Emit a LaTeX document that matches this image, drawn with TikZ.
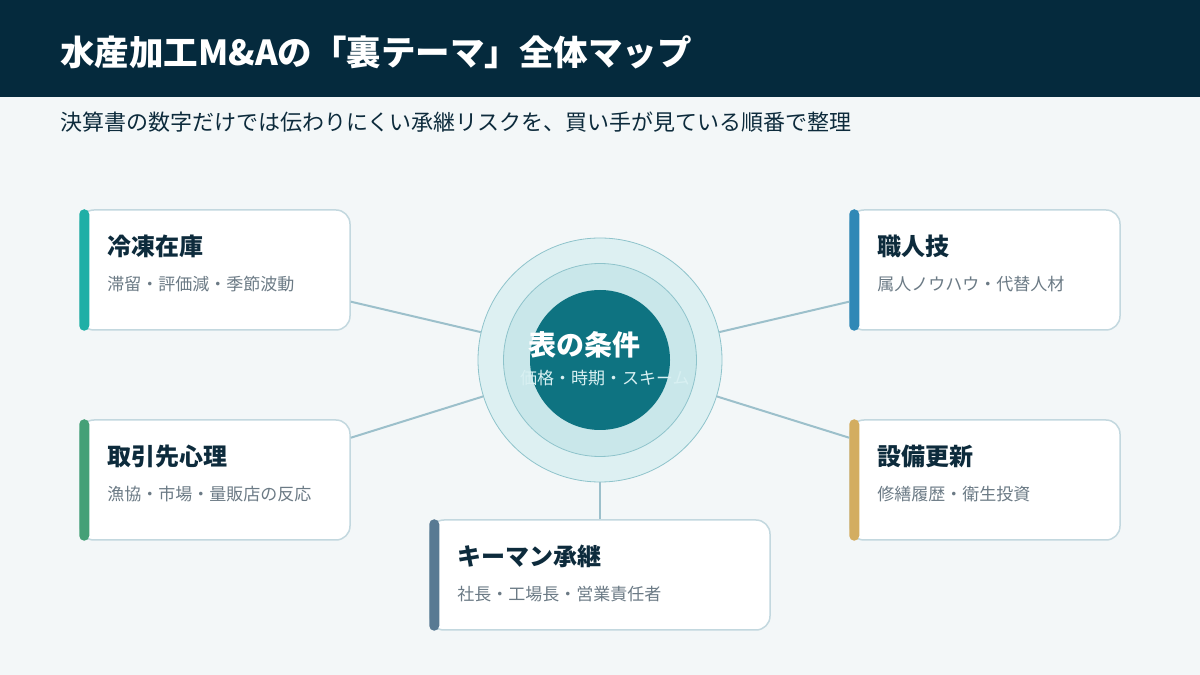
\documentclass[tikz,border=0pt]{standalone}
\usepackage{fontspec}
\setmainfont{Noto Sans CJK JP}
\usepackage{xcolor}
\usepackage{tikz}
\usetikzlibrary{positioning}
\definecolor{pagebg}{HTML}{F3F7F8}
\definecolor{navy}{HTML}{052A3D}
\definecolor{inktext}{HTML}{0D2B3C}
\definecolor{subtext}{HTML}{6B7A85}
\definecolor{cardline}{HTML}{C3D8DF}
\definecolor{linkcol}{HTML}{9CC0CB}
\definecolor{ringline}{HTML}{8EC3CB}
\definecolor{ringout}{HTML}{DDF0F2}
\definecolor{ringmid}{HTML}{C9E7EA}
\definecolor{core}{HTML}{0E7381}
\definecolor{corelabel}{HTML}{D8F0F2}
\definecolor{acteal}{HTML}{1FAFA6}
\definecolor{acgreen}{HTML}{44A077}
\definecolor{acblue}{HTML}{2F88B6}
\definecolor{acgold}{HTML}{D3AD60}
\definecolor{acslate}{HTML}{587A93}

\begin{document}
\begin{tikzpicture}[x=1pt, y=1pt,
  card/.style={draw=cardline, line width=1.5pt, fill=white, rounded corners=14pt,
               minimum width=270pt, minimum height=120pt, inner sep=0pt},
  bar/.style={rounded corners=5pt},
  ttl/.style={font=\fontsize{24}{28}\selectfont\bfseries, color=inktext,
              anchor=west, inner sep=0pt},
  sub/.style={font=\fontsize{17}{20}\selectfont, color=subtext,
              anchor=west, inner sep=0pt},
  ring/.style={circle, draw=ringline, line width=0.8pt, inner sep=0pt},
  link/.style={line width=2pt, color=linkcol}
]
  \useasboundingbox (0,0) rectangle (1200,675);
  \fill[pagebg] (0,0) rectangle (1200,675);
  \fill[navy] (0,578) rectangle (1200,675);

  \node[anchor=west, inner sep=0pt, text=white,
        font=\fontsize{34.5}{40}\selectfont\bfseries] (title) at (60,623)
        {水産加工M\&Aの「裏テーマ」全体マップ};
  \node[anchor=west, inner sep=0pt, text=inktext,
        font=\fontsize{22}{26}\selectfont] (lead) at (60,553)
        {決算書の数字だけでは伝わりにくい承継リスクを、買い手が見ている順番で整理};

  % hub
  \node[ring, fill=ringout, minimum size=244pt] (hub) at (600,315) {};
  \node[ring, fill=ringmid, minimum size=193pt] (mid) at (hub) {};
  \node[circle, fill=core, minimum size=140pt, inner sep=0pt] (core) at (hub) {};
  \node[anchor=west, inner sep=0pt, text=white,
        font=\fontsize{28}{32}\selectfont\bfseries] (cond) at (528,330) {表の条件};
  \node[anchor=west, inner sep=0pt, text=corelabel,
        font=\fontsize{17}{20}\selectfont] (condsub) at (520,297) {価格・時期・スキーム};

  % cards
  \node[card] (inv) at (215,405) {};
  \fill[acteal, bar] (inv.north west) rectangle ([xshift=10pt]inv.south west);
  \node[ttl] (invt) at ([shift={(28,-37)}]inv.north west) {冷凍在庫};
  \node[sub] at ([shift={(28,-75)}]inv.north west) {滞留・評価減・季節波動};

  \node[card] (buyer) at (215,195) {};
  \fill[acgreen, bar] (buyer.north west) rectangle ([xshift=10pt]buyer.south west);
  \node[ttl] (buyert) at ([shift={(28,-37)}]buyer.north west) {取引先心理};
  \node[sub] at ([shift={(28,-75)}]buyer.north west) {漁協・市場・量販店の反応};

  \node[card] (craft) at (985,405) {};
  \fill[acblue, bar] (craft.north west) rectangle ([xshift=10pt]craft.south west);
  \node[ttl] (craftt) at ([shift={(28,-37)}]craft.north west) {職人技};
  \node[sub] at ([shift={(28,-75)}]craft.north west) {属人ノウハウ・代替人材};

  \node[card] (equip) at (985,195) {};
  \fill[acgold, bar] (equip.north west) rectangle ([xshift=10pt]equip.south west);
  \node[ttl] (equipt) at ([shift={(28,-37)}]equip.north west) {設備更新};
  \node[sub] at ([shift={(28,-75)}]equip.north west) {修繕履歴・衛生投資};

  \node[card, minimum width=340pt, minimum height=110pt] (key) at (600,100) {};
  \fill[acslate, bar] (key.north west) rectangle ([xshift=10pt]key.south west);
  \node[ttl] (keyt) at ([shift={(28,-37)}]key.north west) {キーマン承継};
  \node[sub] at ([shift={(28,-75)}]key.north west) {社長・工場長・営業責任者};

  \draw[link] (inv) -- (hub);
  \draw[link] (buyer) -- (hub);
  \draw[link] (craft) -- (hub);
  \draw[link] (equip) -- (hub);
  \draw[link] (key) -- (hub);
\end{tikzpicture}
\end{document}
